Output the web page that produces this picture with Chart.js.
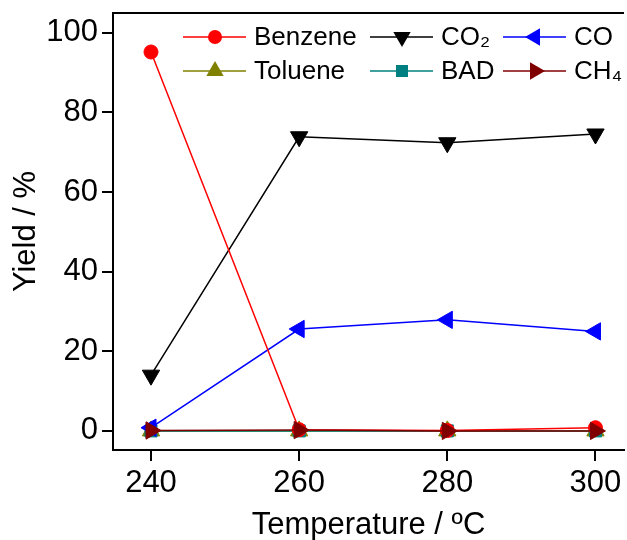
<!DOCTYPE html>
<html>
<head>
<meta charset="utf-8">
<script src="https://cdn.jsdelivr.net/npm/chart.js@4.4.1/dist/chart.umd.min.js"></script>
<style>
  body { margin: 0; background: #fff; }
</style>
</head>
<body>
<canvas id="myChart" width="627" height="540"></canvas>
<script>
// data
const temps = [240, 260, 280, 300];
const xTicks = [240, 260, 280, 300];
const yTicks = [0, 20, 40, 60, 80, 100];

const benzene = [95.2, 0.3, 0.1, 0.8];
const co2 = [14.0, 73.9, 72.4, 74.6];
const co = [0.8, 25.6, 27.9, 25.0];
const toluene = [0, 0, 0, 0];
const bad = [0, 0, 0, 0];
const ch4 = [0.1, 0.2, 0, 0];

const FONT = "'Liberation Sans', Arial, sans-serif";

function pts(vals) {
    return vals.map((v, i) => ({ x: temps[i], y: v }));
}

function series(label, vals, color, style, rot, radius, order) {
    return {
        label: label,
        data: pts(vals),
        borderColor: color,
        backgroundColor: color,
        borderWidth: 1.5,
        pointStyle: style,
        pointRotation: rot,
        pointRadius: radius,
        pointHoverRadius: radius,
        pointBorderWidth: 1,
        order: order
    };
}

const datasets = [
    series('Benzene', benzene, '#ff0000', 'circle', 0, 7, 1),
    series('CO\u2082', co2, '#000000', 'triangle', 180, 10, 2),
    series('CO', co, '#0000ff', 'triangle', -90, 10, 3),
    series('Toluene', toluene, '#808000', 'triangle', 0, 10, 5),
    series('BAD', bad, '#008080', 'rect', 0, 8.5, 4),
    series('CH\u2084', ch4, '#800000', 'triangle', 90, 10, 0)
];

// same marker shapes as chart.js, used for the legend
function marker(ctx, style, rot, r, x, y) {
    ctx.save();
    ctx.translate(x, y);
    ctx.rotate(rot * Math.PI / 180);
    ctx.beginPath();
    if (style === 'circle') {
        ctx.arc(0, 0, r, 0, Math.PI * 2);
    } else if (style === 'triangle') {
        for (let k = 0; k < 3; k++) {
            const a = k * 2 * Math.PI / 3;
            ctx.lineTo(Math.sin(a) * r, -Math.cos(a) * r);
        }
        ctx.closePath();
    } else {
        const s = r * Math.SQRT1_2;
        ctx.rect(-s, -s, 2 * s, 2 * s);
    }
    ctx.fill();
    ctx.restore();
}

const framePlugin = {
    id: 'frame',
    afterDraw(chart) {
        const ctx = chart.ctx;
        const a = chart.chartArea;
        ctx.save();
        ctx.strokeStyle = '#000';
        ctx.lineWidth = 2;
        ctx.beginPath();
        ctx.moveTo(a.left - 1, a.top);
        ctx.lineTo(a.right, a.top);
        ctx.stroke();
        ctx.restore();

        // legend, 3 columns x 2 rows
        const colX = [a.left + 70, a.left + 257, a.left + 390];
        const rowY = [a.top + 24, a.top + 58];
        ctx.save();
        ctx.font = '26px ' + FONT;
        ctx.textBaseline = 'middle';
        chart.data.datasets.forEach((ds, i) => {
            const x = colX[i % 3];
            const y = rowY[Math.floor(i / 3)];
            ctx.strokeStyle = ds.borderColor;
            ctx.fillStyle = ds.backgroundColor;
            ctx.lineWidth = 1.5;
            ctx.beginPath();
            ctx.moveTo(x, y);
            ctx.lineTo(x + 63, y);
            ctx.stroke();
            marker(ctx, ds.pointStyle, ds.pointRotation, ds.pointRadius, x + 32, y);
            ctx.fillStyle = '#000';
            ctx.fillText(ds.label, x + 71, y + 1);
        });
        ctx.restore();
    }
};

const config = {
    type: 'line',
    data: { datasets: datasets },
    options: {
        responsive: false,
        animation: false,
        layout: { autoPadding: false, padding: { top: 13, right: 3, left: 0, bottom: 0 } },
        plugins: {
            legend: { display: false },
            tooltip: { enabled: false }
        },
        scales: {
            x: {
                type: 'linear',
                min: 234.87,
                max: 303.85,
                afterBuildTicks: (axis) => { axis.ticks = xTicks.map(v => ({ value: v })); },
                afterFit: (axis) => {
                    axis.height = 90;
                    axis.paddingLeft = 0;
                    axis.paddingRight = 0;
                },
                border: { display: true, color: '#000', width: 2 },
                grid: { drawOnChartArea: false, drawTicks: true, tickLength: 11, color: '#000', lineWidth: 2 },
                ticks: { color: '#000', font: { family: FONT, size: 31 }, padding: 4, maxRotation: 0 },
                title: {
                    display: true,
                    text: 'Temperature / \u00baC',
                    color: '#000',
                    font: { family: FONT, size: 31, lineHeight: 1 },
                    padding: { top: 0, bottom: -1 }
                }
            },
            y: {
                min: -4.8,
                max: 105,
                afterBuildTicks: (axis) => { axis.ticks = yTicks.map(v => ({ value: v })); },
                afterFit: (axis) => {
                    axis.width = 113;
                    axis.paddingTop = 0;
                    axis.paddingBottom = 0;
                },
                border: { display: true, color: '#000', width: 2 },
                grid: { drawOnChartArea: false, drawTicks: true, tickLength: 11, color: '#000', lineWidth: 2 },
                ticks: { color: '#000', font: { family: FONT, size: 31 }, padding: 4 },
                title: {
                    display: true,
                    text: 'Yield / %',
                    color: '#000',
                    font: { family: FONT, size: 31, lineHeight: 1.2 },
                    padding: { top: 8, bottom: 0 }
                }
            }
        }
    },
    plugins: [framePlugin]
};

const myChart = new Chart(document.getElementById('myChart'), config);
</script>
</body>
</html>
